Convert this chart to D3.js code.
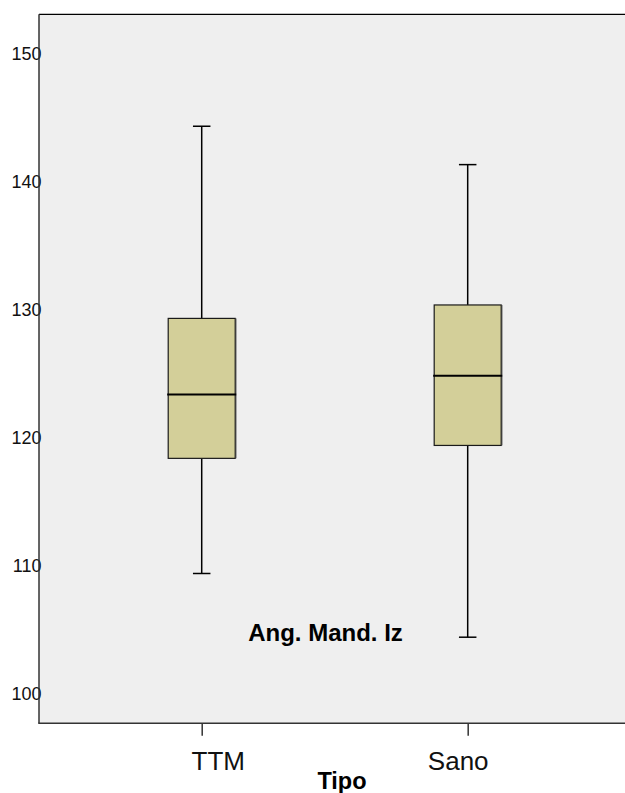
<!DOCTYPE html>
<html>
<head>
<meta charset="utf-8">
<script src="https://cdn.jsdelivr.net/npm/d3@7"></script>
<style>
  html, body { margin: 0; padding: 0; background: #ffffff; }
  svg { display: block; font-family: "Liberation Sans", Arial, sans-serif; }
</style>
</head>
<body>
<svg id="chart" width="625" height="793"></svg>
<script>
// Groups on the x axis
const categories = ["TTM", "Sano"];
// Five-number summaries of Ang. Mand. Iz per group
const whiskerLow  = [109.36, 104.38];
const q1          = [118.36, 119.37];
const medians     = [123.36, 124.82];
const q3          = [129.30, 130.35];
const whiskerHigh = [144.32, 141.32];
// Y axis tick labels
const yTicks = [100, 110, 120, 130, 140, 150];

const svg = d3.select("#chart");

const plot = { left: 39, top: 14.3, right: 630.4, bottom: 723.3 };

const y = d3.scaleLinear()
  .domain([97.65, 153.07])
  .range([plot.bottom, plot.top]);

const x = d3.scalePoint()
  .domain(categories)
  .range([plot.left, plot.right])
  .padding(0.6117);

// Plot background
svg.append("rect")
  .attr("x", plot.left).attr("y", plot.top)
  .attr("width", plot.right - plot.left + 20)
  .attr("height", plot.bottom - plot.top)
  .attr("fill", "#efefef");

// Frame: top edge
svg.append("line")
  .attr("x1", plot.left).attr("x2", 625 + 10)
  .attr("y1", plot.top).attr("y2", plot.top)
  .attr("stroke", "#000").attr("stroke-width", 1.3);

const boxes = categories.map((c, i) => ({
  cat: c, lo: whiskerLow[i], q1: q1[i], med: medians[i], q3: q3[i], hi: whiskerHigh[i]
}));

const boxW = 67, capW = 17.5;

const g = svg.append("g").selectAll("g").data(boxes).join("g")
  .attr("transform", d => `translate(${x(d.cat)},0)`);

// Whiskers
g.append("line")
  .attr("x1", 0).attr("x2", 0)
  .attr("y1", d => y(d.hi)).attr("y2", d => y(d.q3))
  .attr("stroke", "#000").attr("stroke-width", 1.5);
g.append("line")
  .attr("x1", 0).attr("x2", 0)
  .attr("y1", d => y(d.q1)).attr("y2", d => y(d.lo))
  .attr("stroke", "#000").attr("stroke-width", 1.5);
// Caps
g.append("line")
  .attr("x1", -capW / 2).attr("x2", capW / 2)
  .attr("y1", d => y(d.hi)).attr("y2", d => y(d.hi))
  .attr("stroke", "#000").attr("stroke-width", 1.5);
g.append("line")
  .attr("x1", -capW / 2).attr("x2", capW / 2)
  .attr("y1", d => y(d.lo)).attr("y2", d => y(d.lo))
  .attr("stroke", "#000").attr("stroke-width", 1.5);
// Box shadow on the right edge
g.append("line")
  .attr("x1", boxW / 2 + 1).attr("x2", boxW / 2 + 1)
  .attr("y1", d => y(d.q3)).attr("y2", d => y(d.q1))
  .attr("stroke", "#8a8a8a").attr("stroke-width", 1);
// Box
g.append("rect")
  .attr("x", -boxW / 2)
  .attr("y", d => y(d.q3))
  .attr("width", boxW)
  .attr("height", d => y(d.q1) - y(d.q3))
  .attr("fill", "#d3cf99")
  .attr("stroke", "#1a1a1a").attr("stroke-width", 1.2);
// Median
g.append("line")
  .attr("x1", -boxW / 2 - 1).attr("x2", boxW / 2 + 1)
  .attr("y1", d => y(d.med)).attr("y2", d => y(d.med))
  .attr("stroke", "#000").attr("stroke-width", 2);

// Y axis
const yAxis = d3.axisLeft(y).tickValues(yTicks).tickSize(0).tickPadding(0)
  .tickFormat(d3.format("d"));
const yG = svg.append("g")
  .attr("transform", `translate(${plot.left},0)`)
  .call(yAxis);
yG.select(".domain").remove();
yG.selectAll("text")
  .attr("x", 2.5)
  .attr("dy", "0.35em")
  .attr("font-size", 18)
  .attr("fill", "#111")
  .style("font-family", "'Liberation Sans', Arial, sans-serif");

svg.append("line")
  .attr("x1", plot.left).attr("x2", plot.left)
  .attr("y1", plot.top).attr("y2", plot.bottom)
  .attr("stroke", "#333").attr("stroke-width", 1.5);

// X axis
const labelShift = { TTM: 16, Sano: -10 };
const xAxis = d3.axisBottom(x).tickSize(12.5).tickPadding(16);
const xG = svg.append("g")
  .attr("transform", `translate(0,${plot.bottom})`)
  .call(xAxis);
xG.select(".domain").remove();
xG.selectAll(".tick line").attr("stroke", "#333").attr("stroke-width", 1.5);
xG.selectAll("text")
  .attr("font-size", 26)
  .attr("fill", "#111")
  .attr("dx", d => labelShift[d])
  .style("font-family", "'Liberation Sans', Arial, sans-serif");

svg.append("line")
  .attr("x1", plot.left - 0.75).attr("x2", 640)
  .attr("y1", plot.bottom).attr("y2", plot.bottom)
  .attr("stroke", "#333").attr("stroke-width", 1.5);

// Axis title
svg.append("text")
  .attr("x", 342).attr("y", 788.5)
  .attr("text-anchor", "middle")
  .attr("font-size", 23.5).attr("font-weight", "bold")
  .attr("fill", "#000")
  .text("Tipo");

// Variable label inside the plot
svg.append("text")
  .attr("x", 325.5).attr("y", 641)
  .attr("text-anchor", "middle")
  .attr("font-size", 24).attr("font-weight", "bold")
  .attr("fill", "#000")
  .text("Ang. Mand. Iz");
</script>
</body>
</html>
